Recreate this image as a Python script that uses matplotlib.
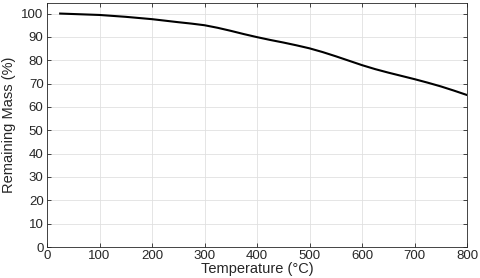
import matplotlib
matplotlib.use("Agg")
import matplotlib.pyplot as plt
import numpy as np

temperature = [25, 100, 150, 200, 250, 275, 300, 325, 350, 375, 400, 425, 450, 475, 500,
               525, 550, 575, 600, 625, 650, 675, 700, 725, 750, 775, 800]
mass = [100, 99.4, 98.6, 97.6, 96.3, 95.7, 95.0, 93.9, 92.6, 91.2, 89.9, 88.7, 87.6, 86.4, 85.1,
        83.5, 81.7, 79.8, 77.9, 76.2, 74.7, 73.3, 71.9, 70.4, 68.8, 67.0, 65.1]
xticks = [0, 100, 200, 300, 400, 500, 600, 700, 800]
yticks = [0, 10, 20, 30, 40, 50, 60, 70, 80, 90, 100]

plt.rcParams['font.family'] = ['Liberation Sans', 'DejaVu Sans']
fig = plt.figure(figsize=(4.8, 2.78), dpi=100)
ax = fig.add_axes([0.098, 0.1115, 0.875, 0.8775])
ax.plot(temperature, mass, color='black', lw=1.5)
ax.set_xlim(0, 800)
ax.set_ylim(0, 104.5)
ax.set_xticks(xticks)
ax.set_yticks(yticks)
ax.grid(True, color='#e0e0e0', lw=0.6)
ax.set_axisbelow(True)
ax.tick_params(direction='in', top=True, right=True, labelsize=9.5, colors='#262626', length=3, width=0.6, pad=2.5)
for s in ax.spines.values():
    s.set_color('#262626')
    s.set_linewidth(0.6)
ax.set_xlabel('Temperature (°C)', fontsize=10.5, color='#262626', labelpad=0)
ax.set_ylabel('Remaining Mass (%)', fontsize=10.5, color='#262626', labelpad=4)
fig.savefig('out.png', dpi=100)
